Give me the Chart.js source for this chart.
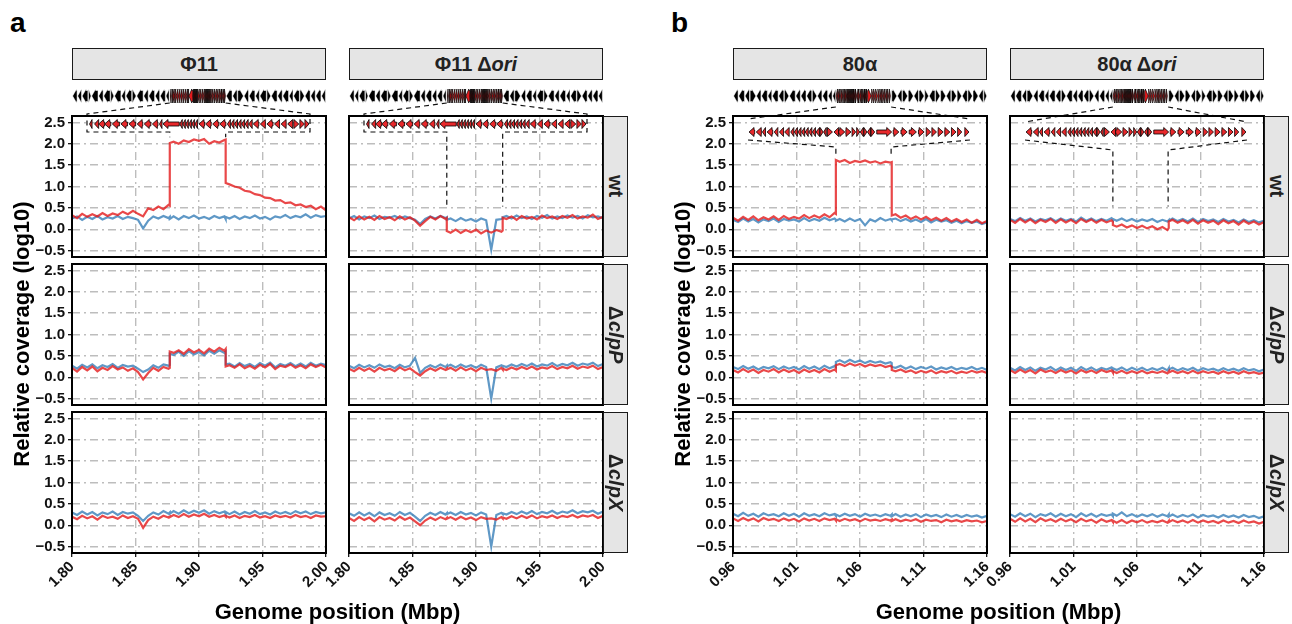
<!DOCTYPE html>
<html>
<head>
<meta charset="utf-8">
<script src="https://cdn.jsdelivr.net/npm/chart.js@4.4.1/dist/chart.umd.min.js"></script>
<style>
  body { margin: 0; width: 1292px; height: 624px; position: relative; overflow: hidden; background: #fff;
         font-family: "Liberation Sans", Arial, sans-serif; }
  canvas { position: absolute; }
  .txt { position: absolute; font-weight: bold; color: #111; white-space: nowrap; }
  .strip { position: absolute; box-sizing: border-box; background: #e5e5e5; border: 1.4px solid #1a1a1a;
           font-weight: bold; font-size: 20px; color: #222; display: flex; align-items: center; justify-content: center; }
  .vstrip { writing-mode: vertical-rl; }
  .box { position: absolute; box-sizing: border-box; border: 2px solid #000; }
</style>
</head>
<body>
<script>
// genome positions sampled (Mbp) - step positions repeated for the jumps
const posA = [1.800,1.804,1.808,1.812,1.816,1.820,1.824,1.828,1.832,1.836,1.840,1.844,1.848,1.852,1.856,1.860,1.864,1.868,1.872,1.876,
  1.877,1.877,
  1.880,1.884,1.888,1.892,1.896,1.900,1.904,1.908,1.912,1.916,1.920,
  1.921,1.921,
  1.924,1.928,1.932,1.936,1.940,1.944,1.948,1.952,1.956,1.960,1.964,1.968,1.972,1.976,1.980,1.984,1.988,1.992,1.996,2.000];
const posB = [0.960,0.964,0.968,0.972,0.976,0.980,0.984,0.988,0.992,0.996,1.000,1.004,1.008,1.012,1.016,1.020,1.024,1.028,1.032,1.036,1.040,
  1.041,1.041,
  1.044,1.048,1.052,1.056,1.060,1.064,1.068,1.072,1.076,1.080,1.084,
  1.085,1.085,
  1.088,1.092,1.096,1.100,1.104,1.108,1.112,1.116,1.120,1.124,1.128,1.132,1.136,1.140,1.144,1.148,1.152,1.156,1.160];

// relative coverage (log10)
const phi11_wt_red = [0.33,0.26,0.36,0.29,0.35,0.30,0.38,0.31,0.37,0.33,0.41,0.35,0.43,0.36,0.30,0.49,0.45,0.53,0.47,0.57, 0.55,2.02,
  2.05,2.00,2.08,2.04,2.10,2.07,2.11,2.00,2.06,2.03,2.09, 2.10,1.08,
  1.05,1.00,0.97,0.90,0.88,0.82,0.80,0.74,0.73,0.67,0.68,0.61,0.63,0.56,0.58,0.52,0.55,0.47,0.53,0.44];
const phi11_wt_blue = [0.25,0.30,0.22,0.29,0.24,0.31,0.23,0.28,0.25,0.31,0.24,0.29,0.26,0.22,0.02,0.20,0.30,0.25,0.31,0.26, 0.29,0.24,
  0.30,0.23,0.31,0.26,0.32,0.25,0.29,0.24,0.31,0.26,0.30, 0.24,0.29,
  0.25,0.31,0.24,0.30,0.26,0.32,0.25,0.29,0.23,0.30,0.27,0.33,0.26,0.31,0.28,0.35,0.27,0.33,0.29,0.31];
const phi11_clpP_red = [0.22,0.13,0.24,0.16,0.25,0.14,0.22,0.17,0.26,0.18,0.23,0.15,0.21,0.12,-0.05,0.10,0.22,0.15,0.24,0.20, 0.22,0.60,
  0.57,0.63,0.55,0.66,0.58,0.64,0.56,0.67,0.60,0.69,0.62, 0.66,0.25,
  0.28,0.22,0.30,0.21,0.27,0.20,0.29,0.23,0.31,0.19,0.27,0.24,0.30,0.22,0.28,0.21,0.30,0.24,0.29,0.23];
const phi11_clpP_blue = [0.27,0.20,0.29,0.23,0.30,0.21,0.28,0.24,0.31,0.22,0.29,0.25,0.27,0.20,0.12,0.18,0.28,0.22,0.30,0.27, 0.29,0.55,
  0.52,0.60,0.50,0.61,0.53,0.59,0.51,0.62,0.55,0.63,0.57, 0.60,0.30,
  0.32,0.25,0.33,0.26,0.31,0.24,0.33,0.27,0.34,0.23,0.31,0.27,0.33,0.26,0.32,0.25,0.34,0.27,0.32,0.28];
const phi11_clpX_red = [0.20,0.14,0.22,0.16,0.21,0.13,0.22,0.17,0.20,0.15,0.23,0.17,0.21,0.15,-0.06,0.12,0.20,0.15,0.22,0.18, 0.20,0.19,
  0.24,0.19,0.26,0.20,0.25,0.21,0.27,0.20,0.24,0.19,0.23, 0.20,0.22,
  0.18,0.23,0.17,0.22,0.19,0.24,0.18,0.21,0.17,0.23,0.19,0.22,0.18,0.24,0.19,0.22,0.17,0.23,0.20,0.21];
const phi11_clpX_blue = [0.30,0.24,0.32,0.25,0.31,0.23,0.30,0.26,0.32,0.24,0.31,0.27,0.30,0.22,0.10,0.22,0.30,0.25,0.33,0.27, 0.30,0.27,
  0.33,0.27,0.35,0.28,0.34,0.29,0.35,0.27,0.33,0.28,0.32, 0.27,0.31,
  0.26,0.32,0.25,0.31,0.27,0.33,0.26,0.30,0.25,0.32,0.27,0.31,0.26,0.33,0.28,0.32,0.26,0.31,0.28,0.30];

const phi11ori_wt_red = [0.28,0.21,0.30,0.23,0.29,0.22,0.31,0.24,0.28,0.21,0.30,0.23,0.28,0.20,0.08,0.19,0.29,0.23,0.31,0.24, 0.26,-0.04,
  -0.08,-0.01,-0.09,-0.02,-0.07,-0.01,-0.10,-0.03,-0.08,-0.02,-0.06, -0.03,0.27,
  0.24,0.30,0.22,0.31,0.25,0.29,0.23,0.32,0.26,0.30,0.24,0.31,0.27,0.33,0.25,0.30,0.27,0.34,0.24,0.29];
const phi11ori_wt_blue = [0.25,0.31,0.23,0.30,0.26,0.32,0.24,0.29,0.27,0.31,0.25,0.30,0.26,0.22,0.12,0.24,0.30,0.25,0.31,0.26, 0.28,0.22,
  0.25,0.19,0.26,0.20,0.24,0.18,0.25,0.21,-0.48,0.22,0.24, 0.25,0.28,
  0.31,0.25,0.32,0.26,0.30,0.24,0.31,0.27,0.33,0.25,0.30,0.26,0.32,0.27,0.31,0.25,0.33,0.28,0.30,0.26];
const phi11ori_clpP_red = [0.20,0.14,0.22,0.15,0.21,0.13,0.22,0.16,0.20,0.14,0.23,0.16,0.21,0.12,0.04,0.14,0.21,0.15,0.22,0.17, 0.20,0.18,
  0.22,0.15,0.23,0.16,0.21,0.14,0.22,0.17,0.19,0.15,0.22, 0.18,0.20,
  0.17,0.23,0.18,0.24,0.19,0.25,0.18,0.23,0.20,0.26,0.19,0.24,0.21,0.27,0.20,0.25,0.22,0.27,0.19,0.24];
const phi11ori_clpP_blue = [0.27,0.21,0.29,0.23,0.28,0.22,0.30,0.24,0.27,0.21,0.29,0.23,0.27,0.45,0.10,0.22,0.28,0.23,0.30,0.24, 0.27,0.25,
  0.29,0.23,0.30,0.24,0.28,0.22,0.29,0.24,-0.50,0.23,0.28, 0.25,0.27,
  0.24,0.30,0.25,0.31,0.26,0.32,0.25,0.30,0.27,0.33,0.26,0.31,0.28,0.34,0.27,0.32,0.29,0.34,0.26,0.31];
const phi11ori_clpX_red = [0.17,0.10,0.19,0.12,0.18,0.09,0.19,0.13,0.17,0.11,0.20,0.13,0.18,0.09,0.00,0.11,0.18,0.12,0.19,0.14, 0.17,0.15,
  0.19,0.13,0.20,0.14,0.18,0.12,0.19,0.15,0.16,0.13,0.19, 0.16,0.18,
  0.15,0.21,0.16,0.22,0.17,0.23,0.16,0.21,0.18,0.23,0.17,0.22,0.19,0.24,0.18,0.23,0.20,0.24,0.17,0.22];
const phi11ori_clpX_blue = [0.28,0.22,0.30,0.23,0.29,0.21,0.30,0.24,0.28,0.22,0.31,0.24,0.29,0.20,0.10,0.22,0.29,0.24,0.31,0.25, 0.28,0.26,
  0.30,0.24,0.31,0.25,0.29,0.23,0.30,0.25,-0.50,0.24,0.29, 0.26,0.28,
  0.25,0.31,0.26,0.32,0.27,0.33,0.26,0.31,0.28,0.34,0.27,0.32,0.29,0.35,0.28,0.33,0.30,0.34,0.27,0.32];

const p80a_wt_red = [0.27,0.20,0.29,0.22,0.30,0.21,0.28,0.23,0.30,0.22,0.31,0.24,0.29,0.25,0.33,0.26,0.32,0.27,0.35,0.28,0.38, 0.36,1.62,
  1.58,1.62,1.55,1.60,1.57,1.61,1.56,1.59,1.54,1.58,1.56, 1.57,0.32,
  0.35,0.27,0.32,0.24,0.30,0.23,0.29,0.21,0.27,0.20,0.26,0.18,0.24,0.17,0.23,0.15,0.22,0.14,0.19];
const p80a_wt_blue = [0.22,0.17,0.25,0.18,0.24,0.16,0.23,0.19,0.25,0.17,0.24,0.20,0.23,0.18,0.26,0.19,0.24,0.20,0.27,0.21,0.25, 0.22,0.20,
  0.24,0.18,0.25,0.19,0.24,0.09,0.23,0.18,0.26,0.20,0.24, 0.21,0.23,
  0.25,0.19,0.24,0.18,0.23,0.17,0.24,0.16,0.22,0.18,0.21,0.15,0.20,0.14,0.19,0.15,0.18,0.12,0.16];
const p80a_clpP_red = [0.17,0.11,0.19,0.12,0.18,0.10,0.17,0.13,0.19,0.11,0.18,0.12,0.17,0.10,0.18,0.12,0.17,0.11,0.19,0.13,0.18, 0.15,0.28,
  0.31,0.26,0.32,0.27,0.31,0.25,0.30,0.26,0.29,0.24,0.27, 0.25,0.17,
  0.14,0.18,0.12,0.16,0.10,0.15,0.11,0.16,0.09,0.14,0.11,0.15,0.09,0.13,0.10,0.15,0.11,0.14,0.10];
const p80a_clpP_blue = [0.24,0.19,0.26,0.20,0.25,0.18,0.24,0.21,0.26,0.19,0.25,0.20,0.24,0.18,0.26,0.20,0.25,0.19,0.27,0.21,0.26, 0.24,0.36,
  0.40,0.34,0.41,0.35,0.39,0.33,0.38,0.34,0.37,0.32,0.35, 0.33,0.24,
  0.22,0.27,0.20,0.25,0.19,0.24,0.20,0.25,0.18,0.23,0.19,0.24,0.18,0.22,0.19,0.24,0.18,0.22,0.17];
const p80a_clpX_red = [0.16,0.10,0.17,0.11,0.16,0.09,0.17,0.12,0.15,0.10,0.16,0.11,0.15,0.09,0.16,0.11,0.15,0.10,0.16,0.12,0.15, 0.11,0.14,
  0.10,0.15,0.11,0.14,0.09,0.15,0.11,0.13,0.10,0.14,0.11, 0.13,0.10,
  0.14,0.09,0.13,0.10,0.14,0.08,0.13,0.10,0.12,0.07,0.13,0.09,0.12,0.08,0.12,0.09,0.11,0.07,0.10];
const p80a_clpX_blue = [0.27,0.21,0.29,0.22,0.27,0.20,0.28,0.23,0.26,0.21,0.28,0.22,0.27,0.20,0.28,0.22,0.26,0.21,0.28,0.23,0.26, 0.22,0.25,
  0.21,0.27,0.22,0.26,0.20,0.27,0.22,0.25,0.21,0.26,0.22, 0.25,0.21,
  0.26,0.20,0.25,0.21,0.26,0.19,0.25,0.21,0.24,0.19,0.25,0.20,0.24,0.19,0.24,0.20,0.23,0.18,0.22];

const p80aori_wt_red = [0.22,0.15,0.24,0.16,0.23,0.14,0.22,0.17,0.24,0.15,0.23,0.16,0.22,0.14,0.24,0.17,0.23,0.15,0.22,0.16,0.21, 0.17,0.10,
  0.06,0.11,0.04,0.09,0.03,0.08,0.02,0.07,0.00,0.05,-0.02, 0.03,0.18,
  0.22,0.15,0.21,0.14,0.22,0.13,0.21,0.15,0.20,0.12,0.21,0.14,0.19,0.11,0.20,0.13,0.18,0.11,0.17];
const p80aori_wt_blue = [0.24,0.19,0.26,0.20,0.25,0.18,0.24,0.21,0.26,0.19,0.25,0.20,0.24,0.18,0.27,0.20,0.25,0.19,0.24,0.20,0.26, 0.22,0.24,
  0.20,0.25,0.19,0.24,0.18,0.23,0.19,0.24,0.17,0.22,0.18, 0.21,0.20,
  0.25,0.19,0.24,0.18,0.25,0.17,0.24,0.19,0.23,0.17,0.24,0.18,0.22,0.16,0.23,0.17,0.21,0.16,0.20];
const p80aori_clpP_red = [0.17,0.10,0.18,0.11,0.17,0.09,0.18,0.12,0.16,0.10,0.17,0.11,0.16,0.09,0.17,0.11,0.16,0.10,0.17,0.12,0.16, 0.11,0.14,
  0.10,0.15,0.09,0.14,0.10,0.15,0.09,0.13,0.10,0.14,0.09, 0.13,0.11,
  0.15,0.10,0.14,0.09,0.15,0.09,0.14,0.10,0.13,0.08,0.14,0.09,0.13,0.08,0.14,0.09,0.12,0.08,0.11];
const p80aori_clpP_blue = [0.22,0.16,0.24,0.17,0.23,0.15,0.22,0.18,0.24,0.16,0.23,0.17,0.22,0.15,0.24,0.17,0.23,0.16,0.22,0.18,0.23, 0.18,0.21,
  0.17,0.23,0.16,0.22,0.17,0.22,0.16,0.21,0.17,0.22,0.16, 0.21,0.18,
  0.22,0.16,0.21,0.17,0.22,0.15,0.21,0.17,0.20,0.15,0.21,0.16,0.20,0.15,0.21,0.16,0.19,0.14,0.18];
const p80aori_clpX_red = [0.15,0.08,0.16,0.09,0.15,0.07,0.16,0.10,0.14,0.08,0.15,0.09,0.14,0.07,0.15,0.09,0.13,0.06,0.14,0.08,0.12, 0.08,0.11,
  0.06,0.12,0.05,0.11,0.07,0.12,0.06,0.10,0.07,0.11,0.06, 0.10,0.07,
  0.12,0.07,0.11,0.06,0.12,0.06,0.11,0.07,0.10,0.05,0.11,0.06,0.10,0.05,0.11,0.06,0.09,0.04,0.08];
const p80aori_clpX_blue = [0.26,0.20,0.28,0.21,0.27,0.19,0.26,0.22,0.28,0.20,0.27,0.21,0.26,0.19,0.28,0.21,0.27,0.20,0.26,0.22,0.25, 0.21,0.27,
  0.22,0.30,0.21,0.26,0.20,0.25,0.21,0.26,0.20,0.25,0.21, 0.25,0.20,
  0.25,0.19,0.24,0.20,0.25,0.18,0.24,0.20,0.23,0.18,0.24,0.19,0.23,0.18,0.24,0.19,0.22,0.17,0.21];

// axis ticks
const tickY = [-0.5, 0, 0.5, 1, 1.5, 2, 2.5];
const tickXA = [1.80, 1.85, 1.90, 1.95, 2.00];
const tickXB = [0.96, 1.01, 1.06, 1.11, 1.16];

// host genes around the prophage [start Mbp, end Mbp, strand]
const hostA = [[1.8005,1.8040,-1],[1.8045,1.8075,-1],[1.8080,1.8125,-1],[1.8130,1.8150,1],[1.8155,1.8205,-1],[1.8210,1.8245,-1],
  [1.8250,1.8300,-1],[1.8305,1.8330,1],[1.8335,1.8385,-1],[1.8390,1.8420,-1],[1.8425,1.8470,-1],[1.8475,1.8505,1],[1.8510,1.8560,-1],
  [1.8565,1.8600,-1],[1.8605,1.8650,-1],[1.8655,1.8690,-1],[1.8695,1.8735,-1],[1.8740,1.8765,-1],
  [1.9215,1.9260,-1],[1.9265,1.9300,-1],[1.9305,1.9350,1],[1.9355,1.9390,-1],[1.9395,1.9440,-1],[1.9445,1.9475,-1],[1.9480,1.9530,-1],
  [1.9535,1.9565,1],[1.9570,1.9615,-1],[1.9620,1.9655,-1],[1.9660,1.9705,-1],[1.9710,1.9740,-1],[1.9745,1.9790,-1],[1.9795,1.9830,1],
  [1.9835,1.9875,-1],[1.9880,1.9915,-1],[1.9920,1.9960,-1],[1.9965,1.9995,-1]];
const hostB = [[0.9605,0.9640,-1],[0.9645,0.9690,-1],[0.9695,0.9730,-1],[0.9735,0.9780,1],[0.9785,0.9820,-1],[0.9825,0.9870,-1],
  [0.9875,0.9905,-1],[0.9910,0.9955,-1],[0.9960,1.0000,-1],[1.0005,1.0040,1],[1.0045,1.0090,-1],[1.0095,1.0130,-1],[1.0135,1.0175,-1],
  [1.0180,1.0220,-1],[1.0225,1.0260,1],[1.0265,1.0300,-1],[1.0305,1.0345,-1],[1.0350,1.0380,-1],[1.0385,1.0408,-1],
  [1.0850,1.0890,1],[1.0895,1.0930,-1],[1.0935,1.0975,1],[1.0980,1.1020,1],[1.1025,1.1060,-1],[1.1065,1.1105,1],[1.1110,1.1140,1],
  [1.1145,1.1190,-1],[1.1195,1.1230,1],[1.1235,1.1275,1],[1.1280,1.1315,-1],[1.1320,1.1360,1],[1.1365,1.1400,1],[1.1405,1.1445,-1],
  [1.1450,1.1485,1],[1.1490,1.1530,1],[1.1535,1.1570,-1],[1.1575,1.1598,1]];

// prophage genes [start kb, end kb, strand]
const phageA = [[0.5,1.0,-1],[1.5,2.3,-1],[2.3,3.5,-1],[3.5,4.7,-1],[5.0,6.4,-1],[6.7,8.0,-1],[8.3,9.6,-1],[9.9,11.0,-1],[11.3,12.6,-1],
  [12.9,14.0,-1],[14.3,14.8,-1],[15.0,18.2,-1],[18.3,18.8,-1],[18.9,19.4,-1],[19.5,20.0,-1],[20.1,20.6,-1],[20.7,21.2,-1],[21.3,21.8,-1],
  [22.1,23.2,-1],[23.4,24.5,-1],[24.8,26.0,-1],[26.2,27.4,-1],[27.7,28.3,-1],[28.4,29.0,-1],[29.1,29.7,-1],[29.8,30.4,-1],[30.5,31.1,-1],
  [31.2,31.8,-1],[31.9,32.6,-1],[32.8,33.9,-1],[34.2,35.2,-1],[35.5,36.7,-1],[37.0,38.0,-1],[38.3,39.3,-1],[39.6,40.6,-1],
  [40.8,41.8,1],[42.0,42.9,1],[43.0,43.8,1]];
const phageB = [[0.2,1.3,-1],[1.6,2.6,-1],[2.8,3.4,-1],[3.7,4.8,-1],[5.1,5.8,-1],[6.1,6.9,-1],[7.1,8.0,-1],[8.3,8.9,-1],[9.0,9.6,-1],
  [9.7,10.3,-1],[10.4,11.0,-1],[11.1,11.7,-1],[11.8,12.4,-1],[12.5,13.1,-1],[13.2,13.9,-1],[14.0,14.6,1],[14.7,15.2,-1],[15.4,16.4,1],
  [16.7,17.6,-1],[17.6,18.8,1],[19.0,20.0,1],[20.2,20.9,1],[21.1,21.7,1],[21.8,22.4,-1],[22.5,23.1,1],[23.2,23.8,-1],[23.9,24.6,1],
  [25.0,27.9,1],[28.2,29.3,1],[29.7,30.9,1],[31.3,32.7,1],[33.1,34.2,1],[34.6,35.5,1],[35.7,36.6,1],[36.9,37.9,1],[38.2,39.2,1],
  [39.5,40.4,1],[40.7,41.5,1],[42.1,42.9,1]];

// prophage location (Mbp), zoomed inset span (Mbp), where the connector stops (log10)
const prophA = [1.877, 1.921], insetA = [1.8118, 1.9874], linkEndA = [2.15, 0.53];
const prophB = [1.041, 1.0845], insetB = [0.9718, 1.1466], linkEndB = [1.70, 0.53];

const RED = 'rgba(228,26,28,0.8)';
const BLUE = 'rgba(55,126,184,0.8)';
const GRID = '#bdbdbd';
const FONT = '"Liberation Sans", Arial, sans-serif';

// layout
const PLOT_W = 254, PLOT_H = 141, Y_AXIS_W = 70, PAD = 16, X_AXIS_H = 62, TOP_PAD = 34;
const colLeft = { a: [72, 349], b: [733, 1010] };
const rowTop = [116, 264, 412];
const rowNames = ['wt', 'Δ<i>clpP</i>', 'Δ<i>clpX</i>'];
const colNames = { a: ['Φ11', 'Φ11 Δ<i>ori</i>'], b: ['80α', '80α Δ<i>ori</i>'] };

const panels = [
  ['a', 0, 0, phi11_wt_red, phi11_wt_blue], ['a', 0, 1, phi11_clpP_red, phi11_clpP_blue], ['a', 0, 2, phi11_clpX_red, phi11_clpX_blue],
  ['a', 1, 0, phi11ori_wt_red, phi11ori_wt_blue], ['a', 1, 1, phi11ori_clpP_red, phi11ori_clpP_blue], ['a', 1, 2, phi11ori_clpX_red, phi11ori_clpX_blue],
  ['b', 0, 0, p80a_wt_red, p80a_wt_blue], ['b', 0, 1, p80a_clpP_red, p80a_clpP_blue], ['b', 0, 2, p80a_clpX_red, p80a_clpX_blue],
  ['b', 1, 0, p80aori_wt_red, p80aori_wt_blue], ['b', 1, 1, p80aori_clpP_red, p80aori_clpP_blue], ['b', 1, 2, p80aori_clpX_red, p80aori_clpX_blue],
];

function arrow(ctx, x1, x2, yc, dir, body, head, hl) {
  const h = Math.min(hl, x2 - x1);
  ctx.beginPath();
  if (dir > 0) {
    ctx.moveTo(x1, yc - body); ctx.lineTo(x2 - h, yc - body); ctx.lineTo(x2 - h, yc - head);
    ctx.lineTo(x2, yc); ctx.lineTo(x2 - h, yc + head); ctx.lineTo(x2 - h, yc + body); ctx.lineTo(x1, yc + body);
  } else {
    ctx.moveTo(x2, yc - body); ctx.lineTo(x1 + h, yc - body); ctx.lineTo(x1 + h, yc - head);
    ctx.lineTo(x1, yc); ctx.lineTo(x1 + h, yc + head); ctx.lineTo(x1 + h, yc + body); ctx.lineTo(x2, yc + body);
  }
  ctx.closePath(); ctx.fill(); ctx.stroke();
}

// gene map above the panel, zoomed prophage inset and connectors
function geneTrack(fig, col) {
  const host = fig === 'a' ? hostA : hostB;
  const phage = fig === 'a' ? phageA : phageB;
  const proph = fig === 'a' ? prophA : prophB;
  const inset = fig === 'a' ? insetA : insetB;
  const linkEnd = (fig === 'a' ? linkEndA : linkEndB)[col];
  const phLen = phage[phage.length - 1][1] + 0.2;
  return {
    id: 'genes',
    afterDraw(chart) {
      const { ctx, chartArea: a, scales: { x, y } } = chart;
      const T = a.top;
      ctx.save();
      // whole region
      ctx.fillStyle = '#000'; ctx.strokeStyle = '#fff'; ctx.lineWidth = 0.5;
      host.forEach(g => arrow(ctx, x.getPixelForValue(g[0]), x.getPixelForValue(g[1]), T - 20, g[2], 5.5, 7, 4));
      ctx.fillStyle = '#e41a1c'; ctx.strokeStyle = '#000'; ctx.lineWidth = 0.7;
      phage.forEach(g => arrow(ctx, x.getPixelForValue(proph[0] + g[0] / 1000), x.getPixelForValue(proph[0] + g[1] / 1000), T - 20, g[2], 5.5, 7, 3));
      // inset
      const toIns = kb => x.getPixelForValue(inset[0] + kb / phLen * (inset[1] - inset[0]));
      const yc = fig === 'a' ? T + 8 : T + 16;
      ctx.fillStyle = '#e8282b'; ctx.strokeStyle = '#000'; ctx.lineWidth = 0.8;
      phage.forEach(g => arrow(ctx, toIns(g[0]), toIns(g[1]), yc, g[2], 2, 4.5, 5));
      // connectors
      const pS = x.getPixelForValue(proph[0]), pE = x.getPixelForValue(proph[1]);
      const iL = x.getPixelForValue(inset[0]), iR = x.getPixelForValue(inset[1]);
      const yEnd = y.getPixelForValue(linkEnd);
      ctx.strokeStyle = '#111'; ctx.lineWidth = 1.2; ctx.setLineDash([5, 4]);
      ctx.beginPath();
      if (fig === 'a') {
        [[pS, iL], [pE, iR]].forEach(([p, i]) => {
          ctx.moveTo(p, T - 13); ctx.lineTo(i, T - 2); ctx.lineTo(i, T + 16); ctx.lineTo(p, T + 16); ctx.lineTo(p, yEnd);
        });
      } else {
        const t2 = col === 0 ? T + 3 : T + 6, b2 = col === 0 ? T + 31 : T + 34;
        [[pS, iL], [pE, iR]].forEach(([p, i]) => {
          ctx.moveTo(p, T - 9); ctx.lineTo(i, t2);
          ctx.moveTo(i, T + 24); ctx.lineTo(p, b2); ctx.lineTo(p, yEnd);
        });
      }
      ctx.stroke();
      ctx.restore();
    }
  };
}

function addBox(cls, html, css) {
  const d = document.createElement('div');
  d.className = cls; d.innerHTML = html;
  Object.assign(d.style, css);
  document.body.appendChild(d);
}

panels.forEach(([fig, col, row, red, blue]) => {
  const xs = fig === 'a' ? posA : posB;
  const xt = fig === 'a' ? tickXA : tickXB;
  const left = colLeft[fig][col], top = rowTop[row];
  const isTop = row === 0, isBottom = row === 2, isLeft = col === 0;
  const padTop = isTop ? TOP_PAD : PAD;
  const xh = isBottom ? X_AXIS_H : 0;
  const padBottom = isBottom ? 0 : PAD;
  const w = Y_AXIS_W + PLOT_W + 14, h = padTop + PLOT_H + xh + padBottom;
  const cv = document.createElement('canvas');
  cv.width = w; cv.height = h;
  Object.assign(cv.style, { left: (left - Y_AXIS_W) + 'px', top: (top - padTop) + 'px', width: w + 'px', height: h + 'px' });
  document.body.appendChild(cv);

  const tickFont = { family: FONT, size: 15, weight: 'bold', lineHeight: 1 };
  new Chart(cv, {
    type: 'line',
    data: {
      datasets: [
        { label: 'red', data: xs.map((x, i) => ({ x, y: red[i] })), borderColor: RED, borderWidth: 2.2, pointRadius: 0, tension: 0 },
        { label: 'blue', data: xs.map((x, i) => ({ x, y: blue[i] })), borderColor: BLUE, borderWidth: 2.2, pointRadius: 0, tension: 0 },
      ]
    },
    options: {
      responsive: false, animation: false, devicePixelRatio: 1, events: [],
      layout: { padding: { left: 0, right: 14, top: padTop, bottom: padBottom } },
      plugins: { legend: { display: false }, tooltip: { enabled: false } },
      scales: {
        x: {
          type: 'linear', min: xt[0], max: xt[xt.length - 1],
          afterBuildTicks: s => { s.ticks = xt.map(v => ({ value: v })); },
          afterFit: s => { s.height = xh; },
          ticks: { display: isBottom, autoSkip: false, minRotation: 45, maxRotation: 45, padding: 2,
                   font: tickFont, color: '#111', callback: v => v.toFixed(2) },
          grid: { color: GRID, lineWidth: 1.4, drawTicks: isBottom, tickLength: 4, tickColor: '#000', tickWidth: 1.2, tickBorderDash: [] },
          border: { display: false, dash: [8, 4, 2, 4] }
        },
        y: {
          min: -0.65, max: 2.65,
          afterBuildTicks: s => { s.ticks = tickY.map(v => ({ value: v })); },
          afterFit: s => { s.width = Y_AXIS_W; },
          ticks: { display: isLeft, autoSkip: false, padding: 3, font: tickFont, color: '#111',
                   callback: v => (v < 0 ? '\u2212' : '') + Math.abs(v).toFixed(1) },
          grid: { color: GRID, lineWidth: 1.4, drawTicks: isLeft, tickLength: 4, tickColor: '#000', tickWidth: 1.2, tickBorderDash: [] },
          border: { display: false, dash: [8, 4, 2, 4] }
        }
      }
    },
    plugins: isTop ? [geneTrack(fig, col)] : []
  });
  // panel border
  addBox('box', '', { left: (left - 1) + 'px', top: (top - 1) + 'px', width: (PLOT_W + 2) + 'px', height: (PLOT_H + 2) + 'px' });
});

// strips, titles and panel letters
['a', 'b'].forEach(fig => {
  colLeft[fig].forEach((l, c) => addBox('strip', colNames[fig][c], { left: l + 'px', top: '48px', width: PLOT_W + 'px', height: '32px' }));
  const r = colLeft[fig][1] + PLOT_W;
  rowTop.forEach((t, i) => addBox('strip vstrip', rowNames[i], { left: r + 'px', top: t + 'px', width: '25px', height: PLOT_H + 'px' }));
  const l0 = colLeft[fig][0];
  addBox('txt', fig, { left: (l0 - 62) + 'px', top: '9px', fontSize: '28px', lineHeight: '28px', color: '#000' });
  addBox('txt', 'Relative coverage (log10)', { left: (l0 - 50 - 200) + 'px', top: '321px', width: '400px', height: '26px',
    fontSize: '22px', lineHeight: '26px', textAlign: 'center', transform: 'rotate(-90deg)', color: '#000' });
  const cx = (l0 + r) / 2;
  addBox('txt', 'Genome position (Mbp)', { left: (cx - 200) + 'px', top: '599px', width: '400px', fontSize: '22px',
    lineHeight: '26px', textAlign: 'center', color: '#000' });
});
</script>
</body>
</html>
